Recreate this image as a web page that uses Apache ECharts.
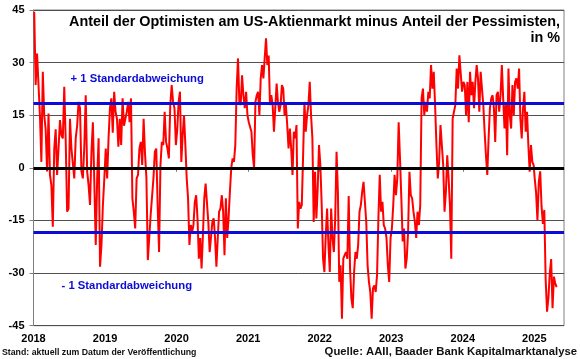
<!DOCTYPE html>
<html><head><meta charset="utf-8">
<script src="https://cdn.jsdelivr.net/npm/echarts@6/dist/echarts.min.js"></script>
<style>html,body{margin:0;padding:0;background:#fff}#c{width:580px;height:359px}</style>
</head><body><div id="c"></div>
<script>
// Weekly bull-minus-bear spread (AAII), per calendar year
const v2018 = [44.5, 23.6, 32.6, 23.6, 15, 1.7, 27.4, 15, 11, -1, 15.5, -2, -5, -16.8, 5.5, 11, -2, 5.5, 13.6, 9.3, 8.4, 23.1, 8, -12.5, -11.6, 14, 5.5, 5.5, -3, 8.4, 12, 18.8, 17, -1, -3, 6, 20.7, -1, -5, -10.6, 4.6, 13, -4, -22, -3, 8.4, -28.2, -22, -10.6, -3];
const v2019 = [5.5, -3, 8.4, 17, 19.8, 10, 21.7, 16, 14, 6, 14, 6.5, 19.8, 12, 14, 16, 18.8, 13, 19.8, -8.7, -12.5, -17.3, -3, -2, 5.5, 7.4, 0.8, 14, 4, -3, -26.3, -20, -13.5, -13, -3, 4.6, 5.5, -10.6, -24, 0.8, 7.4, 6.5, 16, 7.4, 5.5, 2.7, 17.9, 23.6, 18.8, 17, 6.5];
const v2020 = [11, 18.8, 21.7, 1.7, 9.3, 15, 6.5, -3, -8.7, -22, -16.3, -18.3, -16.3, -9.7, -7.8, -14.4, -25.9, -20, -28.7, -19.2, -8.7, -4.5, -4, -15.4, -24, -24.4, -15.4, -14.4, -20, -28.2, -20, -12.5, -11.6, -7.8, -12.5, -24.9, -8.7, -20, -14.4, -6.8, 0, 2.7, 1.7, 6.5, 22.6, 31.2, 18.8, 17.9, 26.4, 20.7, 17, 21.7, 15];
const v2021 = [13, 13, 10.3, 3.6, 0, 18.8, 20.7, 21.7, 15, 25.5, 29.3, 25.5, 31.2, 36.9, 29.3, 32, 17.9, 20.7, 17.9, 10.3, 10.3, 24, 18.8, 16, 17.9, 23.6, 22.6, 15, 17.9, 12.2, 5.5, 11.2, 5.5, -2, 10.3, 8.4, 12.2, -17.3, -9.7, -11.6, -10.6, 3.6, 18.8, 10.3, 15, 17.9, 24.5, 15, 8.4, -15.4, -1.1, -14.4, -5.9, 6.5];
const v2022 = [0.8, -10.6, -25.9, -29.7, -19.2, -11.6, -22, -29.7, -11.6, -20, -24, -14.4, 4.6, -6.8, -32.5, -27.8, -43, -25.9, -24.9, -24, -25.9, -8, -28.7, -37.3, -40, -29.7, -24, -25.9, -22, -12.5, -10.6, -6.8, -4, -4, -15.4, -27.8, -32.5, -35.4, -43, -34.4, -33.5, -35.4, -30.6, -14.4, -2, -12.5, -9.7, -16.3, -17.3, -20, -27.8, -32.5, -20];
const v2023 = [-17.3, -10.6, -2, -7.8, -3, 13, 2.7, -8.7, -21, -17.3, -28.7, -25.9, -18.3, -1.1, -7.8, -8.7, -12.5, -15.4, -20, -12.5, -16.3, -10.6, 19.8, 22.6, 15, 18.8, 16, 21.7, 19.8, 29.3, 22.6, 27.4, 17.9, 6.5, -3, 1.7, 12.2, 6.5, 0.8, -12.5, -6.8, 3.6, -3, -10.6, -25.9, 14, 16, 17.9, 28.3, 22.6, 32.1, 32.1, 21.7];
const v2024 = [24.5, 23.6, 15, 24.5, 13, 27.4, 20.7, 24.5, 17, 24.5, 29.3, 25.5, 16, 27.4, 22.6, 17.9, 10.3, 3.6, -2, 8.4, 17, 19.8, 20.7, 17, 7.4, 20.7, 21.7, 16, 20.7, 29.3, 19.8, 11.2, 18.8, 3.6, 28.3, 15, 11.2, 23.6, 15, 24.5, 25.5, 22.6, 28.3, 14, 8.4, 17, 21.7, 10.3, 16, 6.5, -1.1, 6.5, 1.7, 0.8];
const v2025 = [-3, -7, -15, -4, -1, -11, -16, -12, -32, -41, -37, -30, -26, -40, -31, -33, -34]; // weekly, year to date

const fullYears = [[2018, v2018], [2019, v2019], [2020, v2020], [2021, v2021], [2022, v2022], [2023, v2023], [2024, v2024]];
const partialYear = [2025, v2025];
const yearTicks = [2018, 2019, 2020, 2021, 2022, 2023, 2024, 2025];
const stdDev = 18.4;
const meanLine = 0;
const xMin = 2018, xMax = 2025.415;

const titleLine1 = 'Anteil der Optimisten am US-Aktienmarkt minus Anteil der Pessimisten,';
const titleLine2 = 'in %';
const plusLabel = '+ 1 Standardabweichung';
const minusLabel = '- 1 Standardabweichung';
const footLeft = 'Stand: aktuell zum Datum der Veröffentlichung';
const footRight = 'Quelle: AAII, Baader Bank Kapitalmarktanalyse';

const data = [];
fullYears.forEach(([y, vals]) => vals.forEach((v, i) => data.push([y + (i + 0.5) / vals.length, v])));
partialYear[1].forEach((v, i) => data.push([partialYear[0] + (2 + 7 * i) / 365, v]));

const FF = '"Liberation Sans", Arial, sans-serif';
const BLUE = '#0c0cd6';
const chart = echarts.init(document.getElementById('c'), null, {renderer: 'canvas'});
chart.setOption({
  animation: false,
  backgroundColor: '#fff',
  grid: {left: 33.5, right: 16, top: 10, bottom: 33.3, show: true, borderColor: '#808080', borderWidth: 1, containLabel: false, outerBoundsMode: 'none'},
  xAxis: {
    type: 'value', min: xMin, max: xMax, interval: 1,
    axisLine: {show: true, lineStyle: {color: '#808080', width: 1}},
    axisTick: {show: true, length: 4, inside: false, customValues: yearTicks, lineStyle: {color: '#808080'}},
    axisLabel: {customValues: yearTicks, formatter: v => String(Math.round(v)), color: '#000', fontWeight: 'bold', fontSize: 11, fontFamily: FF, margin: 8},
    splitLine: {show: false}
  },
  yAxis: {
    type: 'value', min: -45, max: 45, interval: 15,
    axisLine: {show: true, lineStyle: {color: '#808080', width: 1}},
    axisTick: {show: true, length: 4, inside: false, lineStyle: {color: '#808080'}},
    axisLabel: {color: '#000', fontWeight: 'bold', fontSize: 11, fontFamily: FF, margin: 9},
    splitLine: {show: true, lineStyle: {color: '#505050', width: 1}}
  },
  series: [
    {type: 'line', data: data, showSymbol: false, symbol: 'none', z: 2,
     lineStyle: {color: '#ff0000', width: 2}, silent: true},
    {type: 'line', data: [], z: 5, silent: true,
     markLine: {silent: true, symbol: ['none', 'none'], label: {show: false}, animation: false,
       data: [
         {yAxis: meanLine, lineStyle: {color: '#000', width: 3, type: 'solid'}},
         {yAxis: meanLine + stdDev, lineStyle: {color: BLUE, width: 3, type: 'solid'}},
         {yAxis: meanLine - stdDev, lineStyle: {color: BLUE, width: 3, type: 'solid'}}
       ]}}
  ],
  graphic: [
    {type: 'text', x: 560, y: 22, z: 10, style: {text: titleLine1, align: 'right', verticalAlign: 'middle', fontSize: 14.4, fontWeight: 'bold', fontFamily: FF, fill: '#000'}},
    {type: 'text', x: 560, y: 38, z: 10, style: {text: titleLine2, align: 'right', verticalAlign: 'middle', fontSize: 14.4, fontWeight: 'bold', fontFamily: FF, fill: '#000'}},
    {type: 'text', x: 70.5, y: 79, z: 10, style: {text: plusLabel, align: 'left', verticalAlign: 'middle', fontSize: 11.3, fontWeight: 'bold', fontFamily: FF, fill: BLUE}},
    {type: 'text', x: 61.5, y: 286, z: 10, style: {text: minusLabel, align: 'left', verticalAlign: 'middle', fontSize: 11.3, fontWeight: 'bold', fontFamily: FF, fill: BLUE}},
    {type: 'text', x: 2, y: 352.5, z: 10, style: {text: footLeft, align: 'left', verticalAlign: 'middle', fontSize: 8.75, fontWeight: 'bold', fontFamily: FF, fill: '#111'}},
    {type: 'text', x: 577, y: 352, z: 10, style: {text: footRight, align: 'right', verticalAlign: 'middle', fontSize: 11.3, fontWeight: 'bold', fontFamily: FF, fill: '#111'}}
  ]
});
</script>
</body></html>
